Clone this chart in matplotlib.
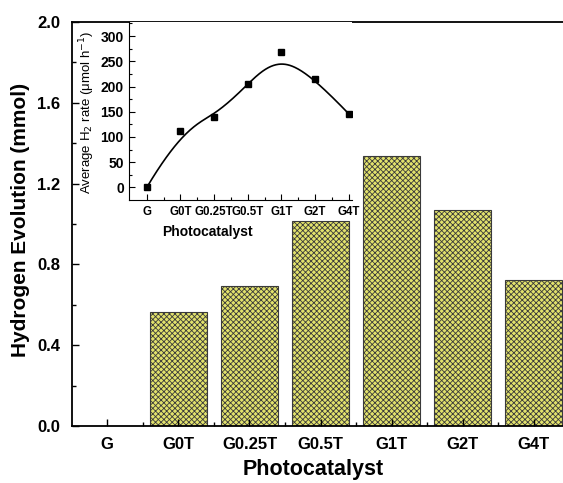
import matplotlib.pyplot as plt
import numpy as np

plt.rcParams['font.family'] = ['Liberation Sans', 'DejaVu Sans']
plt.rcParams['hatch.linewidth'] = 0.6
plt.rcParams['hatch.color'] = '#4a4a1a'

katalizatory = ['G', 'G0T', 'G0.25T', 'G0.5T', 'G1T', 'G2T', 'G4T']
wodor_mmol = [0.0, 0.564, 0.693, 1.015, 1.337, 1.070, 0.723]
szybkosc = [0, 112, 139, 205, 268, 215, 146]


def b_spline(px, py, k=3, n_pts=300):
    # krzywa B-spline z punktami pomiarowymi jako punktami kontrolnymi
    n = len(px)
    t = np.concatenate([np.zeros(k), np.arange(n - k + 1), np.full(k, n - k)])
    u = np.linspace(0, n - k, n_pts)
    u[-1] -= 1e-9
    N = np.array([(t[i] <= u) & (u < t[i + 1]) for i in range(len(t) - 1)], float)
    for p in range(1, k + 1):
        nowe = []
        for i in range(len(t) - 1 - p):
            a = np.zeros_like(u)
            b = np.zeros_like(u)
            if t[i + p] > t[i]:
                a = (u - t[i]) / (t[i + p] - t[i]) * N[i]
            if t[i + p + 1] > t[i + 1]:
                b = (t[i + p + 1] - u) / (t[i + p + 1] - t[i + 1]) * N[i + 1]
            nowe.append(a + b)
        N = np.array(nowe)
    return N.T @ np.asarray(px, float), N.T @ np.asarray(py, float)


fig = plt.figure(figsize=(5.63, 4.83), dpi=100)
ax = fig.add_axes([0.1273, 0.118, 0.8842, 0.8365])
x = np.arange(len(katalizatory))

ax.bar(x, wodor_mmol, width=0.8, color='#e2e26c', edgecolor='#3a3a3a',
       linewidth=0.8, hatch='xxxxxx')
ax.set_xlim(-0.5, 6.5)
ax.set_ylim(0, 2.0)
ax.set_xticks(x)
ax.set_xticks(x[:-1] + 0.5, minor=True)
ax.set_xticklabels(katalizatory, fontsize=12, fontweight='bold')
ax.set_yticks(np.arange(0, 2.01, 0.4))
ax.set_yticks(np.arange(0.2, 2.0, 0.4), minor=True)
ax.set_yticklabels([f'{v:.1f}' for v in np.arange(0, 2.01, 0.4)],
                   fontsize=12, fontweight='bold')
ax.tick_params(which='both', direction='in', width=1)
ax.tick_params(which='major', length=5, pad=8)
ax.tick_params(which='minor', length=3)
ax.spines['right'].set_visible(False)
for s in ['left', 'bottom', 'top']:
    ax.spines[s].set_linewidth(1.3)
ax.set_xlabel('Photocatalyst', fontsize=15.5, fontweight='bold')
ax.set_ylabel('Hydrogen Evolution (mmol)', fontsize=15, fontweight='bold')
ax.xaxis.set_label_coords(0.485, -0.082)
ax.yaxis.set_label_coords(-0.084, 0.511)

# Wstawka
ins = fig.add_axes([0.2297, 0.586, 0.395, 0.3685])
ins.plot(x, szybkosc, 's', color='black', markersize=5)
cx, cy = b_spline(x, szybkosc)
ins.plot(cx, cy, color='black', linewidth=1.2)
ins.set_xlim(-0.52, 6.09)
ins.set_ylim(-25, 328)
ins.set_xticks(x)
ins.set_xticks(x[:-1] + 0.5, minor=True)
ins.set_xticklabels(katalizatory, fontsize=8.3, fontweight='bold')
ins.set_yticks(np.arange(0, 301, 50))
ins.set_yticks(np.arange(25, 326, 50), minor=True)
ins.tick_params(axis='y', labelsize=10)
for t in ins.get_yticklabels():
    t.set_fontweight('bold')
ins.tick_params(which='both', direction='in', width=0.8)
ins.tick_params(which='major', length=4, pad=4)
ins.tick_params(which='minor', length=2)
ins.spines['right'].set_visible(False)
ins.spines['top'].set_visible(False)
ins.set_xlabel('Photocatalyst', fontsize=10, fontweight='bold')
ins.set_ylabel(r'Average H$_2$ rate (μmol h$^{-1}$)', fontsize=9.5)
ins.xaxis.set_label_coords(0.35, -0.14)
ins.yaxis.set_label_coords(-0.145, 0.49)

fig.savefig('out.png', dpi=100)
